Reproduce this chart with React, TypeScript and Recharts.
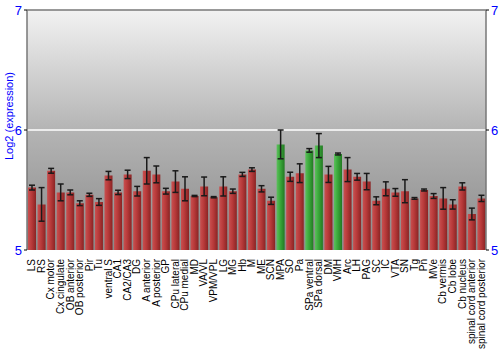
import React from "react";
import {
  BarChart,
  Bar,
  XAxis,
  YAxis,
  ErrorBar,
  ReferenceArea,
  ReferenceLine,
  Cell,
} from "recharts";

const regions = [
  "LS", "RS", "Cx motor", "Cx cingulate", "OB anterior", "OB posterior", "Pir", "Tu",
  "ventral S", "CA1", "CA2/CA3", "DG", "A anterior", "A posterior", "GP", "CPu lateral",
  "CPu medial", "MD", "VA/VL", "VPM/VPL", "LG", "MG", "Hb", "M", "ME", "SCN", "MPA", "SO",
  "Pa", "SPa ventral", "SPa dorsal", "DM", "VMH", "Arc", "LH", "PAG", "SC", "IC", "VTA",
  "SN", "Tg", "Pn", "MVe", "Cb vermis", "Cb lobe", "Cb nucleus", "spinal cord anterior",
  "spinal cord posterior",
];

const expression = [
  5.52, 5.38, 5.66, 5.48, 5.48, 5.39, 5.46, 5.4,
  5.62, 5.48, 5.63, 5.49, 5.66, 5.63, 5.49, 5.57,
  5.51, 5.45, 5.53, 5.44, 5.53, 5.49, 5.63, 5.67, 5.51, 5.41, 5.88, 5.61,
  5.64, 5.83, 5.87, 5.63, 5.8, 5.67, 5.61, 5.57, 5.41, 5.51, 5.48,
  5.49, 5.43, 5.5, 5.45, 5.43, 5.38, 5.53, 5.3,
  5.43,
];

const stdErr = [
  0.02, 0.14, 0.02, 0.07, 0.02, 0.02, 0.013, 0.028,
  0.035, 0.018, 0.035, 0.04, 0.11, 0.07, 0.024, 0.09,
  0.1, 0.005, 0.078, 0.005, 0.08, 0.018, 0.017, 0.015, 0.026, 0.03, 0.12, 0.038,
  0.078, 0.015, 0.1, 0.067, 0.008, 0.1, 0.028, 0.068, 0.033, 0.058, 0.032,
  0.096, 0.007, 0.008, 0.02, 0.09, 0.039, 0.03, 0.049,
  0.026,
];

// regions drawn in green
const enriched = ["MPA", "SPa ventral", "SPa dorsal", "VMH"];

const yTicks = [5, 6, 7];

const data = regions.map((name, i) => ({
  name,
  value: expression[i],
  err: stdErr[i],
}));

const FONT = "'Liberation Sans', Arial, sans-serif";

function RegionTick(props: any) {
  const { x, y, payload } = props;
  return (
    <text
      x={x}
      y={y + 1}
      dy="0.35em"
      textAnchor="end"
      transform={`rotate(-90 ${x} ${y + 1})`}
      fontSize={10}
      fontFamily={FONT}
      fill="#000"
    >
      {payload.value}
    </text>
  );
}

export default function App() {
  return (
    <div style={{ width: 500, height: 350 }}>
      <style>{"body{margin:0}"}</style>
      <BarChart
        width={500}
        height={350}
        data={data}
        margin={{ top: 10, right: 0, bottom: 0, left: 0 }}
        barSize={8}
      >
        <defs>
          <linearGradient id="bg" x1="0" y1="0" x2="0" y2="1">
            <stop offset="0%" stopColor="#f2f2f2" />
            <stop offset="50%" stopColor="#b4b4b4" />
            <stop offset="100%" stopColor="#8a8a8a" />
          </linearGradient>
          <linearGradient id="redBar" x1="0" y1="0" x2="1" y2="0">
            <stop offset="0%" stopColor="#c95050" />
            <stop offset="45%" stopColor="#b83a3a" />
            <stop offset="100%" stopColor="#8a2424" />
          </linearGradient>
          <linearGradient id="greenBar" x1="0" y1="0" x2="1" y2="0">
            <stop offset="0%" stopColor="#5cc05c" />
            <stop offset="45%" stopColor="#3aa83a" />
            <stop offset="100%" stopColor="#237a23" />
          </linearGradient>
        </defs>
        <ReferenceArea
          yAxisId="left"
          y1={5}
          y2={7}
          fill="url(#bg)"
          fillOpacity={1}
          stroke="none"
          ifOverflow="visible"
        />
        <ReferenceLine yAxisId="left" y={6} stroke="#ffffff" strokeWidth={1.5} />
        <ReferenceLine yAxisId="left" y={7} stroke="#777" strokeWidth={1.5} />
        <XAxis
          dataKey="name"
          interval={0}
          axisLine={false}
          tickLine={false}
          height={100}
          tick={<RegionTick />}
        />
        <YAxis
          yAxisId="left"
          domain={[5, 7]}
          ticks={yTicks}
          allowDataOverflow
          width={27}
          tickSize={3}
          axisLine={{ stroke: "#777", strokeWidth: 1.5 }}
          tickLine={{ stroke: "#000" }}
          tick={{ fill: "#0000ff", fontSize: 13, fontFamily: FONT }}
          label={{
            content: () => (
              <text
                x={9}
                y={116}
                dy="0.35em"
                textAnchor="middle"
                transform="rotate(-90 9 116)"
                fill="#0000ff"
                fontSize={11}
                fontFamily={FONT}
              >
                Log2 (expression)
              </text>
            ),
          }}
        />
        <YAxis
          yAxisId="right"
          orientation="right"
          domain={[5, 7]}
          ticks={yTicks}
          allowDataOverflow
          width={14}
          tickSize={3}
          axisLine={{ stroke: "#777", strokeWidth: 1.5 }}
          tickLine={{ stroke: "#000" }}
          tick={{ fill: "#0000ff", fontSize: 13, fontFamily: FONT }}
        />
        <Bar yAxisId="left" dataKey="value" isAnimationActive={false}>
          {data.map((d) => (
            <Cell
              key={d.name}
              fill={enriched.includes(d.name) ? "url(#greenBar)" : "url(#redBar)"}
            />
          ))}
          <ErrorBar
            dataKey="err"
            width={3}
            stroke="#1a1a1a"
            strokeWidth={1.5}
            direction="y"
          />
        </Bar>
      </BarChart>
    </div>
  );
}
